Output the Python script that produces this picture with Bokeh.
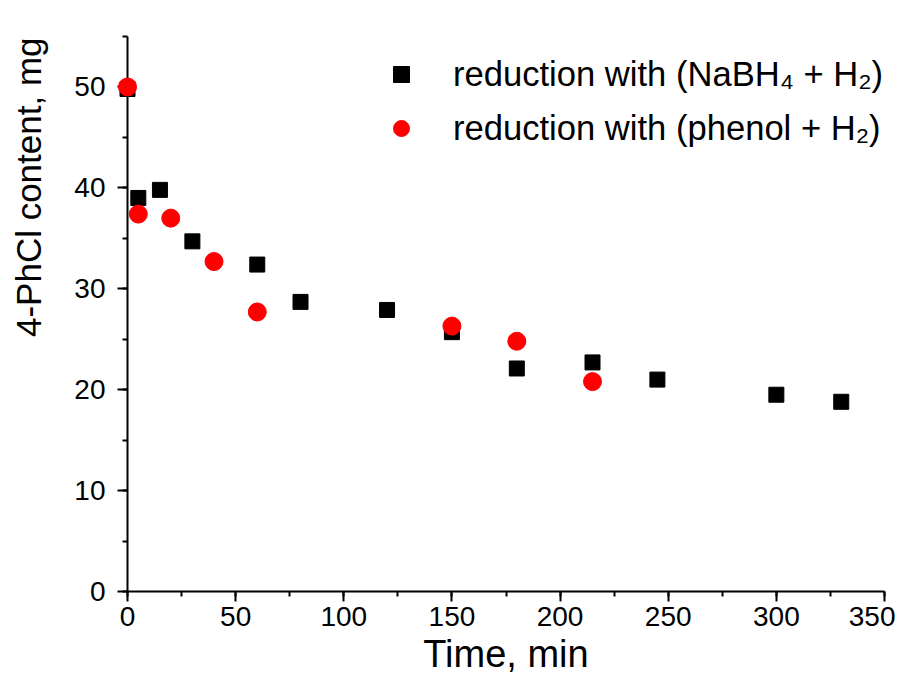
import numpy as np
from bokeh.plotting import figure
from bokeh.models import Range1d, SingleIntervalTicker, Legend, LegendItem
from bokeh.core.properties import value
from bokeh.embed import file_html
from bokeh.resources import INLINE

# ---- data ----
t_nabh4 = [0, 5, 15, 30, 60, 80, 120, 150, 180, 215, 245, 300, 330]
c_nabh4 = [49.8, 39.0, 39.8, 34.7, 32.4, 28.7, 27.9, 25.7, 22.1, 22.7, 21.0, 19.5, 18.8]
t_phenol = [0, 5, 20, 40, 60, 150, 180, 215]
c_phenol = [50.0, 37.4, 37.0, 32.7, 27.7, 26.3, 24.8, 20.8]

label_nabh4 = "reduction with (NaBH\u2084 + H\u2082)"
label_phenol = "reduction with (phenol + H\u2082)"
x_title = "Time, min"
y_title = "4-PhCl content, mg"

FONT = "Liberation Sans"

p = figure(width=895, height=679,
           x_range=Range1d(0, 350), y_range=Range1d(0, 55),
           output_backend="svg", toolbar_location=None,
           min_border_left=127, min_border_right=11,
           min_border_top=36, min_border_bottom=88)

p.xgrid.visible = False
p.ygrid.visible = False
p.outline_line_color = None
p.background_fill_color = "white"

p.xaxis.ticker = SingleIntervalTicker(interval=50, num_minor_ticks=2)
p.yaxis.ticker = SingleIntervalTicker(interval=10, num_minor_ticks=2)

for ax in (p.xaxis[0], p.yaxis[0]):
    ax.axis_line_width = 2
    ax.axis_line_color = "black"
    ax.major_tick_line_width = 2
    ax.minor_tick_line_width = 2
    ax.major_tick_line_color = "black"
    ax.minor_tick_line_color = "black"
    ax.major_tick_out = 10
    ax.major_tick_in = 0
    ax.minor_tick_out = 5
    ax.minor_tick_in = 0
    ax.major_label_text_font = FONT
    ax.major_label_text_font_size = "28px"
    ax.major_label_text_color = "black"

p.xaxis.major_label_standoff = 5
p.yaxis.major_label_standoff = 12

r1 = p.scatter(t_nabh4, c_nabh4, marker="square", size=15,
               fill_color="black", line_color="black", level="overlay")
r2 = p.scatter(t_phenol, c_phenol, marker="circle", size=18,
               fill_color="red", line_color="red", level="overlay")

legend = Legend(items=[LegendItem(label=label_nabh4, renderers=[r1]),
                       LegendItem(label=label_phenol, renderers=[r2])],
                location=(254, 443), margin=0, padding=0,
                glyph_width=40, glyph_height=40, label_standoff=32,
                spacing=14, border_line_alpha=0, background_fill_alpha=0,
                label_text_font=FONT, label_text_font_size="34.6px",
                label_text_color="black")
p.add_layout(legend)

# axis titles (y title sits off-centre as in the original)
p.text(x=[-45.8], y=[40.06], text=[y_title], angle=np.pi / 2,
       text_align="center", text_baseline="middle",
       text_font=value(FONT), text_font_size=value("35px"),
       text_color="black", level="overlay")
p.text(x=[175], y=[-6.2], text=[x_title],
       text_align="center", text_baseline="alphabetic",
       text_font=value(FONT), text_font_size=value("38px"),
       text_color="black", level="overlay")

open("out.html", "w").write(file_html(p, INLINE))
